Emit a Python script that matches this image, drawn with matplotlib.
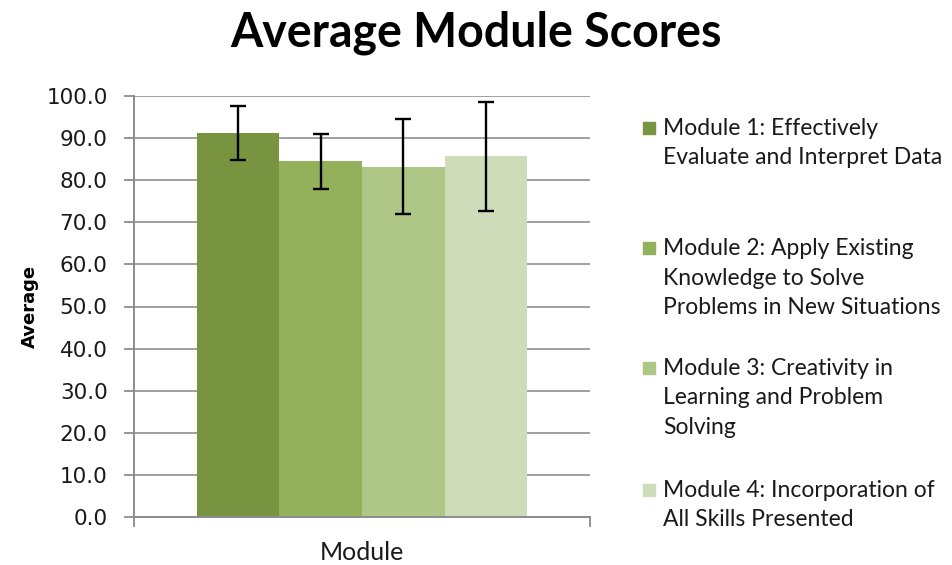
import numpy as np
import matplotlib.pyplot as plt
from matplotlib.patches import Rectangle

# data
modules = [
    "Module 1: Effectively\nEvaluate and Interpret Data",
    "Module 2: Apply Existing\nKnowledge to Solve\nProblems in New Situations",
    "Module 3: Creativity in\nLearning and Problem\nSolving",
    "Module 4: Incorporation of\nAll Skills Presented",
]
averages = [91.2, 84.5, 83.2, 85.7]
errors = [6.5, 6.5, 11.3, 12.9]
colors = ["#789440", "#93B05A", "#AEC686", "#CFDCB9"]
yticks = np.arange(0, 101, 10)

W, H = 953, 565
fig = plt.figure(figsize=(W / 100, H / 100), dpi=100)
ax = fig.add_axes([134 / W, 1 - 517 / H, 456 / W, 421 / H])

width = 0.181
x = 0.5 + (np.arange(len(averages)) - 1.5) * width
ax.bar(x, averages, width=width, color=colors, zorder=2)
ax.errorbar(x, averages, yerr=errors, fmt="none", ecolor="black",
            elinewidth=1.7, capsize=5.5, capthick=1.7, zorder=3)

ax.set_xlim(0, 1)
ax.set_ylim(0, 100)
ax.set_yticks(yticks)
ax.set_yticklabels([f"{v:.1f}" for v in yticks], fontsize=15.5,
                   family="DejaVu Sans", color="#1a1a1a")
ax.set_xticks([0, 1])
ax.set_xticklabels([])
ax.tick_params(axis="both", direction="out", length=7, width=1.3,
               color="#8c8c8c", pad=12)
ax.yaxis.grid(True, color="#a0a0a0", linewidth=1.4, zorder=0)
ax.set_axisbelow(True)
for side in ["top", "right"]:
    ax.spines[side].set_visible(False)
for side in ["left", "bottom"]:
    ax.spines[side].set_color("#8c8c8c")
    ax.spines[side].set_linewidth(1.4)

ax.set_ylabel("Average", fontsize=13, fontweight="bold",
              family="DejaVu Sans", va="center")
ax.yaxis.set_label_coords((30 - 134) / 456, 0.5)
fig.text(362 / W, 1 - 552 / H, "Module", ha="center", va="center",
         fontsize=18, family="Lato", color="#1a1a1a")

fig.text(0.5, 1 - 33 / H, "Average Module Scores", ha="center", va="center",
         fontsize=33.5, fontweight="bold", family="Lato")

# legend, Excel style: marker beside the first line of each entry
entry_tops = [128, 248, 368, 490]
for name, col, yt in zip(modules, colors, entry_tops):
    fig.patches.append(Rectangle((643 / W, 1 - (yt + 6) / H), 12 / W, 12 / H,
                                 transform=fig.transFigure, color=col))
    fig.text(663 / W, 1 - (yt - 10) / H, name, ha="left", va="top",
             fontsize=16.5, family="Lato", color="#1a1a1a", linespacing=1.5)

fig.savefig("out.png", dpi=100)
